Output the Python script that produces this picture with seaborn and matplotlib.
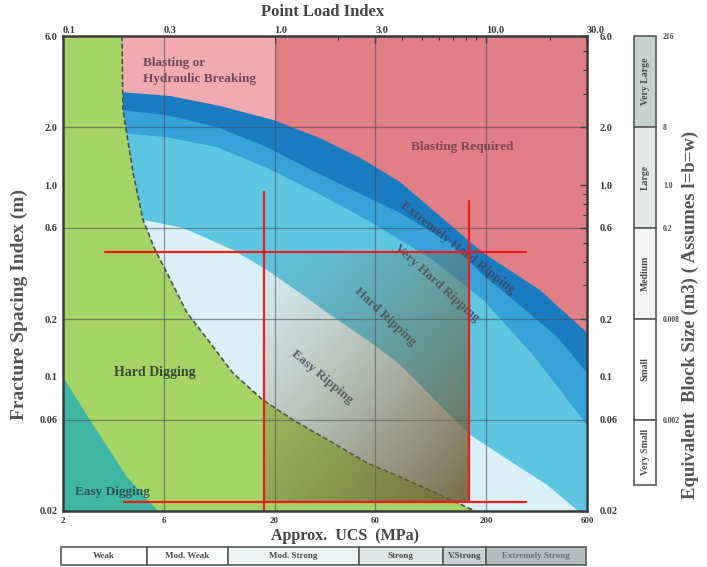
import numpy as np
import pandas as pd
import matplotlib
matplotlib.use("Agg")
import matplotlib.pyplot as plt
from matplotlib.colors import LinearSegmentedColormap
from matplotlib.ticker import FixedLocator, LogLocator, NullFormatter, NullLocator
import seaborn as sns

# ---------------- data ----------------
ucs_ticks = [2, 6, 20, 60, 200, 600]
ucs_tick_labels = ["2", "6", "20", "60", "200", "600"]
pli_ticks = [0.1, 0.3, 1.0, 3.0, 10.0, 30.0]
pli_tick_labels = ["0.1", "0.3", "1.0", "3.0", "10.0", "30.0"]
fsi_ticks = [6.0, 2.0, 1.0, 0.6, 0.2, 0.1, 0.06, 0.02]
fsi_tick_labels = ["6.0", "2.0", "1.0", "0.6", "0.2", "0.1", "0.06", "0.02"]

# lower edge of the blasting zones (top of "Extremely Hard Ripping")
blast_ucs = [3.75, 6.41, 11.05, 19.7, 32.8, 50.7, 78.4, 121, 194, 360, 600]
blast_fsi = [3.06, 2.92, 2.59, 2.19, 1.76, 1.39, 1.04, 0.691, 0.443, 0.284, 0.170]
# extremely hard / very hard ripping
xhard_ucs = [3.75, 6.20, 10.7, 18.4, 31.8, 54.8, 78.4, 135, 194, 299, 433, 600]
xhard_fsi = [2.47, 2.32, 2.01, 1.58, 1.16, 0.868, 0.717, 0.500, 0.340, 0.229, 0.162, 0.105]
# very hard / hard ripping
vhard_ucs = [3.75, 6.20, 10.7, 18.4, 31.8, 54.8, 78.4, 112, 194, 334, 600]
vhard_fsi = [1.87, 1.78, 1.58, 1.23, 0.911, 0.659, 0.518, 0.408, 0.252, 0.130, 0.0562]
# hard / easy ripping
hard_ucs = [4.78, 7.39, 12.7, 18.4, 26.4, 37.8, 54.8, 78.4, 121, 168, 268, 388, 545]
hard_fsi = [0.659, 0.599, 0.460, 0.362, 0.274, 0.206, 0.156, 0.116, 0.0715, 0.0499, 0.0356, 0.0274, 0.02]
# digging limit (dashed)
dig_ucs = [3.80, 3.84, 4.29, 4.78, 5.45, 6.20, 7.72, 9.91, 12.7, 17.6, 24.5, 37.8, 54.8, 78.4, 121, 177]
dig_fsi = [6.0, 2.47, 1.16, 0.659, 0.460, 0.349, 0.216, 0.151, 0.105, 0.0759, 0.0597, 0.0453, 0.0356, 0.0301, 0.0243, 0.02]
# easy / hard digging
easy_ucs = [2.0, 2.68, 4.01, 5.63]
easy_fsi = [0.1, 0.0597, 0.0301, 0.02]
# blasting or hydraulic breaking vs blasting required
breaking_ucs = [3.8, 20.0]

block_edges = [6.0, 2.0, 0.6, 0.2, 0.06, 0.0274]
block_classes = ["Very Large", "Large", "Medium", "Small", "Very Small"]
block_tick_fsi = [6.0, 2.0, 1.0, 0.6, 0.2, 0.06]
block_tick_labels = ["216", "8", "1.0", "0.2", "0.008", "0.002"]

strength_classes = ["Weak", "Mod. Weak", "Mod. Strong", "Strong", "V.Strong", "Extremely Strong"]
strength_edges = [1.96, 5, 12, 50, 125, 200, 594]

# highlighted window and guide lines
box_ucs = [17.8, 166]
box_fsi = [0.0223, 0.449]
guide_seg = [0, 0, 1, 1, 2, 2, 3, 3]
guide_ucs = [3.16, 309, 3.88, 309, 17.8, 17.8, 166, 166]
guide_fsi = [0.449, 0.449, 0.0223, 0.0223, 0.922, 0.0205, 0.827, 0.0229]

# ---------------- style ----------------
sns.set_style("white")
plt.rcParams["font.family"] = ["Liberation Serif", "DejaVu Serif"]
plt.rcParams["font.weight"] = "bold"

C_RED = "#e17f86"
C_PINK = "#f1aab0"
C_DARK = "#1b7bc0"
C_MED = "#36a2d8"
C_LIGHT = "#5fc6e2"
C_PALE = "#d9f1f6"
C_GREEN = "#a4d466"
C_TEAL = "#3fb5a3"

W, H = 707, 567
fig = plt.figure(figsize=(W / 100, H / 100), dpi=100)
L, R, T, B = 63, 587, 36, 511
ax = fig.add_axes([L / W, 1 - B / H, (R - L) / W, (B - T) / H])
ax.set_xscale("log")
ax.set_yscale("log")
ax.set_xlim(2, 600)
ax.set_ylim(0.02, 6)
ax.set_facecolor(C_RED)

# zones, painted back to front
ax.fill([breaking_ucs[0], breaking_ucs[1], breaking_ucs[1], breaking_ucs[0]],
        [0.02, 0.02, 6, 6], color=C_PINK, lw=0, zorder=1)
for xs, ys, col in [(blast_ucs, blast_fsi, C_DARK),
                    (xhard_ucs, xhard_fsi, C_MED),
                    (vhard_ucs, vhard_fsi, C_LIGHT)]:
    ax.fill(list(xs) + [600, xs[0]], list(ys) + [0.02, 0.02], color=col, lw=0, zorder=1)
ax.fill(list(hard_ucs) + [hard_ucs[0]], list(hard_fsi) + [0.02], color=C_PALE, lw=0, zorder=1)
ax.fill(list(dig_ucs) + [2, 2], list(dig_fsi) + [0.02, 6], color=C_GREEN, lw=0, zorder=1)
ax.fill(list(easy_ucs) + [2], list(easy_fsi) + [0.02], color=C_TEAL, lw=0, zorder=1)

# grid
for xv in [6, 20, 60, 200]:
    ax.axvline(xv, color="#45455a", lw=0.9, alpha=0.55, zorder=2)
for yv in [2.0, 0.6, 0.2, 0.06]:
    ax.axhline(yv, color="#45455a", lw=0.9, alpha=0.55, zorder=2)

ax.plot(dig_ucs, dig_fsi, color="#505050", lw=1.2, ls=(0, (3, 1.6)), zorder=3)

# zone names
ax.text(4.78, 3.94, "Blasting or\nHydraulic Breaking", fontsize=9.5, color="#6e4a55",
        ha="left", va="center", linespacing=1.35, zorder=4)
ax.text(154, 1.58, "Blasting Required", fontsize=9.5, color="#7e4850",
        ha="center", va="center", zorder=4)
ax.text(5.45, 0.106, "Hard Digging", fontsize=10, color="#3d4a35",
        ha="center", va="center", zorder=4)
ax.text(3.41, 0.0252, "Easy Digging", fontsize=9.5, color="#2f5555",
        ha="center", va="center", zorder=4)
rip_kw = dict(fontsize=9.5, color="#3d4660", ha="center", va="center",
              rotation_mode="anchor", zorder=4, alpha=0.85)
ax.text(33.5, 0.100, "Easy Ripping", rotation=-40, **rip_kw)
ax.text(66.6, 0.206, "Hard Ripping", rotation=-43, **rip_kw)
ax.text(117, 0.309, "Very Hard Ripping", rotation=-42, **rip_kw)
ax.text(147, 0.471, "Extremely Hard Ripping", rotation=-38, **rip_kw)

# shaded window
gx = np.geomspace(box_ucs[0], box_ucs[1], 80)
gy = np.geomspace(box_fsi[0], box_fsi[1], 80)
u = np.linspace(0, 1, len(gx) - 1)
v = np.linspace(1, 0, len(gy) - 1)
U, V = np.meshgrid(u, v)
shade = ((U + V) / 2) ** 1.3
tint = LinearSegmentedColormap.from_list(
    "tint", [(0.43, 0.37, 0.22, 0.04), (0.43, 0.37, 0.22, 0.9)])
ax.pcolormesh(gx, gy, shade, cmap=tint, vmin=0, vmax=1, shading="flat",
              lw=0, antialiased=False, zorder=5)

guides = pd.DataFrame({"seg": guide_seg, "ucs": guide_ucs, "fsi": guide_fsi})
sns.lineplot(data=guides, x="ucs", y="fsi", units="seg", estimator=None, sort=False,
             color="#ee1c1c", lw=1.6, ax=ax, zorder=6, legend=False)
ax.set_xlabel("")
ax.set_ylabel("")

# axes and ticks
for s in ax.spines.values():
    s.set_color("#3a3a3a")
    s.set_linewidth(1.8)
    s.set_zorder(7)
tick_kw = dict(direction="in", colors="#3a3a3a", labelcolor="#3a3a3a")
ax.xaxis.set_major_locator(FixedLocator(ucs_ticks))
ax.set_xticklabels(ucs_tick_labels)
ax.xaxis.set_minor_locator(LogLocator(subs=np.arange(2, 10)))
ax.xaxis.set_minor_formatter(NullFormatter())
ax.yaxis.set_major_locator(FixedLocator(fsi_ticks))
ax.set_yticklabels(fsi_tick_labels)
ax.yaxis.set_minor_locator(LogLocator(subs=np.arange(2, 10)))
ax.yaxis.set_minor_formatter(NullFormatter())
ax.tick_params(axis="x", which="major", length=5, width=1, labelsize=6.5, pad=4, **tick_kw)
ax.tick_params(axis="x", which="minor", length=3, width=0.8, **tick_kw)
ax.tick_params(axis="y", which="major", length=5, width=1, labelsize=7.5, pad=4, **tick_kw)
ax.tick_params(axis="y", which="minor", length=3, width=0.8, **tick_kw)

top = ax.secondary_xaxis("top", functions=(lambda q: q / 20, lambda p: p * 20))
top.set_xticks(pli_ticks)
top.set_xticklabels(pli_tick_labels, ha="left")
top.xaxis.set_minor_locator(LogLocator(subs=np.arange(2, 10)))
top.xaxis.set_minor_formatter(NullFormatter())
top.tick_params(which="major", length=5, width=1, labelsize=7.5, pad=1, **tick_kw)
top.tick_params(which="minor", length=3, width=0.8, **tick_kw)
top.spines["top"].set_visible(False)

right = ax.secondary_yaxis("right")
right.set_yticks(fsi_ticks)
right.set_yticklabels(fsi_tick_labels)
right.yaxis.set_minor_locator(LogLocator(subs=np.arange(2, 10)))
right.yaxis.set_minor_formatter(NullFormatter())
right.tick_params(which="major", length=5, width=1, labelsize=7.5, pad=9, **tick_kw)
right.tick_params(which="minor", length=3, width=0.8, **tick_kw)
right.spines["right"].set_visible(False)

fig.text(323 / W, 1 - 12 / H, "Point Load Index", ha="center", va="center",
         fontsize=12, color="#444444")
fig.text(345 / W, 1 - 536 / H, "Approx.  UCS  (MPa)", ha="center", va="center",
         fontsize=11.5, color="#444444")
fig.text(19 / W, 1 - 304 / H, "Fracture Spacing Index (m)", ha="center", va="center",
         rotation=90, fontsize=14, color="#555555")
fig.text(690 / W, 1 - 315 / H, "Equivalent  Block Size (m3) ( Assumes l=b=w)",
         ha="center", va="center", rotation=90, fontsize=13.5, color="#555555")

# block size scale
block_colors = ["#c3d3cb", "#e4e9e7", "#f3f5f5", "#ffffff", "#ffffff"]
bax = fig.add_axes([634 / W, 1 - B / H, 22 / W, (B - T) / H])
bax.set_yscale("log")
bax.set_ylim(0.02, 6)
bax.set_xlim(0, 1)
for i, name in enumerate(block_classes):
    hi, lo = block_edges[i], block_edges[i + 1]
    bax.bar(0.5, hi - lo, bottom=lo, width=1, color=block_colors[i],
            edgecolor="#5a5a5a", lw=1.2, clip_on=False)
    bax.text(0.5, np.sqrt(hi * lo), name, rotation=90, ha="center", va="center",
             fontsize=7, color="#4a4a4a")
for s in bax.spines.values():
    s.set_visible(False)
bax.set_xticks([])
bax.yaxis.tick_right()
bax.yaxis.set_major_locator(FixedLocator(block_tick_fsi))
bax.set_yticklabels(block_tick_labels)
bax.yaxis.set_minor_locator(NullLocator())
bax.tick_params(axis="y", length=0, pad=5, labelsize=5.5, labelcolor="#4a4a4a")

# rock strength scale
strength_colors = ["#ffffff", "#fcfdfd", "#eef3f3", "#dfe5e5", "#c9d2d2", "#b3bdbd"]
sax = fig.add_axes([L / W, 1 - 565 / H, (R - L) / W, 18 / H])
sax.set_xscale("log")
sax.set_xlim(2, 600)
sax.set_ylim(0, 1)
for i, name in enumerate(strength_classes):
    lo, hi = strength_edges[i], strength_edges[i + 1]
    sax.barh(0.5, hi - lo, left=lo, height=1, color=strength_colors[i],
             edgecolor="#5a5a5a", lw=1.2, clip_on=False)
    sax.text(np.sqrt(lo * hi), 0.5, name, ha="center", va="center", fontsize=6.5,
             color="#4a4a4a" if i < 5 else "#6a7272")
sax.axis("off")

fig.savefig("out.png", dpi=100)
